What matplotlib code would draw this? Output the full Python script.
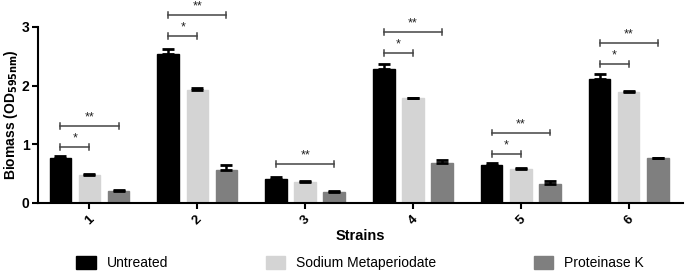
import matplotlib.pyplot as plt
import numpy as np

plt.rcParams['font.family'] = ['Liberation Sans', 'DejaVu Sans']

strains = ['1', '2', '3', '4', '5', '6']
untreated = [0.77, 2.53, 0.41, 2.29, 0.65, 2.11]
untreated_err = [0.03, 0.10, 0.03, 0.07, 0.03, 0.08]
sodium = [0.47, 1.93, 0.36, 1.78, 0.57, 1.89]
sodium_err = [0.02, 0.03, 0.02, 0.01, 0.03, 0.02]
proteinase = [0.21, 0.56, 0.19, 0.68, 0.32, 0.76]
proteinase_err = [0.01, 0.09, 0.01, 0.05, 0.05, 0.01]

# significance brackets: (strain index, from series, to series, height, label)
brackets = [
    (0, 0, 1, 0.95, '*'), (0, 0, 2, 1.31, '**'),
    (1, 0, 1, 2.85, '*'), (1, 0, 2, 3.20, '**'),
    (2, 0, 2, 0.66, '**'),
    (3, 0, 1, 2.56, '*'), (3, 0, 2, 2.91, '**'),
    (4, 0, 1, 0.83, '*'), (4, 0, 2, 1.20, '**'),
    (5, 0, 1, 2.37, '*'), (5, 0, 2, 2.73, '**'),
]

colors = ['#000000', '#d4d4d4', '#7f7f7f']
labels = ['Untreated', 'Sodium Metaperiodate', 'Proteinase K']

fig = plt.figure(figsize=(6.86, 2.72), dpi=100)
ax = fig.add_axes([0.055, 0.254, 0.94, 0.647])

x = np.arange(1, len(strains) + 1)
w = 0.2
offs = [-0.27, 0, 0.27]
series = [(untreated, untreated_err), (sodium, sodium_err), (proteinase, proteinase_err)]
handles = []
for i, (vals, errs) in enumerate(series):
    b = ax.bar(x + offs[i], vals, w, color=colors[i], edgecolor=colors[i], label=labels[i], zorder=2)
    ax.errorbar(x + offs[i], vals, yerr=[np.zeros(len(vals)), errs], fmt='none',
                ecolor='black', elinewidth=1.8, capsize=4, capthick=2, zorder=3)
    handles.append(b)

for g, a, c, h, s in brackets:
    x0 = x[g] + offs[a]
    x1 = x[g] + offs[c]
    ax.plot([x0, x1], [h, h], color='#444444', lw=1.1, clip_on=False)
    ax.plot([x0, x0], [h - 0.05, h + 0.05], color='#444444', lw=1.1, clip_on=False)
    ax.plot([x1, x1], [h - 0.05, h + 0.05], color='#444444', lw=1.1, clip_on=False)
    ax.text((x0 + x1) / 2, h + 0.04, s, ha='center', va='bottom', fontsize=9, color='#222222')

ax.set_xlim(0.52, 6.5)
ax.set_ylim(0, 3)
ax.set_yticks([0, 1, 2, 3])
ax.set_xticks(x)
ax.set_xticklabels(strains, rotation=45, fontsize=9.5, fontweight='bold')
ax.tick_params(axis='y', labelsize=10, width=1.5, length=4, pad=2)
for t in ax.get_yticklabels():
    t.set_fontweight('bold')
ax.tick_params(axis='x', width=1.5, length=4)
ax.spines['top'].set_visible(False)
ax.spines['right'].set_visible(False)
ax.spines['left'].set_linewidth(1.5)
ax.spines['bottom'].set_linewidth(1.5)
ax.set_xlabel('Strains', fontsize=10.5, fontweight='bold', labelpad=1)
ax.set_ylabel('Biomass (OD$_{\\mathbf{595nm}}$)', fontsize=10, fontweight='bold', labelpad=1)

fig.legend(handles, labels, loc='lower center', ncol=3, frameon=False, fontsize=10,
           bbox_to_anchor=(0.525, -0.04), columnspacing=7.0, handlelength=1.4, handleheight=1.1)

fig.savefig('out.png', dpi=100)
